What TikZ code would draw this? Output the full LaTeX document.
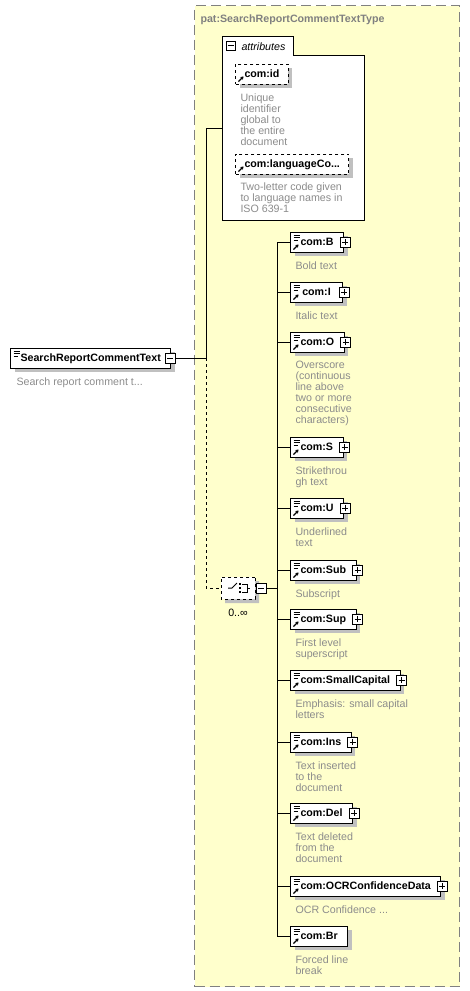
\documentclass[tikz,border=0pt]{standalone}
\usepackage{fontspec}
\setmainfont{Liberation Sans}
\usetikzlibrary{shadows,shapes.misc,arrows.meta,positioning}

\definecolor{typefill}{RGB}{255,255,204}
\definecolor{typeline}{RGB}{128,128,128}
\definecolor{desctext}{RGB}{140,140,140}
\definecolor{shadowgray}{RGB}{192,192,192}

\newcommand\diagfont{\fontsize{10.67}{11}\selectfont}
\newcommand\iconlines{\draw[solid,line width=0.8pt] ([shift={(3,-3)}]path picture bounding box.north west) -- ++(6,0) ++(-6,-2.5) -- ++(6,0) ++(-6,-2.5) -- ++(4,0);}
\newcommand\iconref{\draw[solid,line width=1.2pt,-{Stealth[length=3pt,width=4pt]}] ([shift={(3,2.5)}]path picture bounding box.south west) -- ++(5,5);}

\tikzset{
  box shadow/.style={drop shadow={shadow xshift=4pt,shadow yshift=-4pt,fill=shadowgray,opacity=1}},
  elem/.style={draw,fill=white,font=\diagfont\bfseries,minimum width=52pt,minimum height=20pt,
    inner xsep=10pt,inner ysep=0pt,text height=8pt,text depth=2pt,box shadow,path picture={\iconlines\iconref}},
  topelem/.style={elem,path picture={\iconlines}},
  attr/.style={elem,dashed,inner xsep=9pt,path picture={\iconref}},
  expander/.style={draw,solid,fill=white,minimum size=10pt,inner sep=0pt},
  plusbox/.style={expander,path picture={\draw ([xshift=-3pt]path picture bounding box.center) -- ([xshift=3pt]path picture bounding box.center)
    ([yshift=-3pt]path picture bounding box.center) -- ([yshift=3pt]path picture bounding box.center);}},
  minusbox/.style={expander,path picture={\draw ([xshift=-3pt]path picture bounding box.center) -- ([xshift=3pt]path picture bounding box.center);}},
  desc/.style={anchor=north west,inner sep=0pt,align=left,text=desctext},
  typebox/.style={draw=typeline,fill=typefill,dash pattern=on 10pt off 5pt},
  choice/.style={draw,dashed,fill=white,chamfered rectangle,chamfered rectangle xsep=6pt,chamfered rectangle ysep=6pt,
    minimum width=34pt,minimum height=22pt,inner sep=0pt,box shadow}
}

\begin{document}
\begin{tikzpicture}[x=1pt,y=1pt,line width=1pt,font=\diagfont]
  \useasboundingbox (0,0) rectangle (469,-991);
  \node[typebox,minimum width=265pt,minimum height=981pt,anchor=north west] (patType) at (194,-5) {};
  \node[anchor=base west,inner sep=0pt,text=typeline,font=\diagfont\bfseries] (patTitle) at (200,-22) {pat:SearchReportCommentTextType};

  % attributes
  \node[minimum width=141pt,minimum height=183pt,inner sep=0pt,anchor=north west] (attrs) at (222,-36) {};
  \draw[fill=white] (attrs.south west) -- (attrs.north west) -| ++(71,-19) -| (attrs.south east) -- cycle;
  \node[minusbox,minimum size=9pt] (attrsMinus) at (230.5,-45.5) {};
  \node[anchor=base west,inner sep=0pt,font=\diagfont\itshape] (attrsLabel) at (241,-50.5) {attributes};
  \node[attr,anchor=west] (aId) at (235,-74) {com:id};
  \node[desc] at ([shift={(5,-8.3)}]aId.south west) {Unique\\identifier\\global to\\the entire\\document};
  \node[attr,anchor=west] (aLang) at (235,-164) {com:languageCo...};
  \node[desc] at ([shift={(5,-7.3)}]aLang.south west) {Two-letter code given\\to language names in\\ISO 639-1};

  % element
  \node[topelem,anchor=west] (searchElem) at (10,-358) {SearchReportCommentText};
  \node[minusbox] (searchMinus) at ([xshift=-1pt]searchElem.east) {};
  \node[desc] at ([shift={(6,-8.3)}]searchElem.south west) {Search report comment t...};

  % choice
  \node[choice] (choiceGrp) at (238,-588) {};
  \draw ([xshift=-10pt]choiceGrp.center) -- ++(4,0) -- ++(5,5);
  \foreach \d in {-4,0,4} \fill ([shift={(0.5,\d-0.8)}]choiceGrp.center) rectangle ++(2,1.6);
  \draw ([shift={(4,4)}]choiceGrp.center) -| ([shift={(9,-4)}]choiceGrp.center) -- ++(-5,0)
    ([xshift=9pt]choiceGrp.center) -- ++(3,0);
  \node[minusbox,anchor=west] (choiceMinus) at (choiceGrp.east) {};
  \node[anchor=base,inner sep=0pt] (choiceCard) at (238,-616) {0..∞};

  % children
  \node[elem,anchor=west] (eB) at (290,-242) {com:B};
  \node[plusbox] (eBPlus) at ([xshift=1pt]eB.east) {};
  \node[desc] at ([shift={(5,-8.3)}]eB.south west) {Bold text};
  \node[elem,anchor=west] (eI) at (290,-292) {com:I};
  \node[plusbox] (eIPlus) at ([xshift=1pt]eI.east) {};
  \node[desc] at ([shift={(5,-8.3)}]eI.south west) {Italic text};
  \node[elem,anchor=west] (eO) at (290,-342) {com:O};
  \node[plusbox] (eOPlus) at ([xshift=1pt]eO.east) {};
  \node[desc] at ([shift={(5,-8.3)}]eO.south west) {Overscore\\(continuous\\line above\\two or more\\consecutive\\characters)};
  \node[elem,anchor=west] (eS) at (290,-447) {com:S};
  \node[plusbox] (eSPlus) at ([xshift=1pt]eS.east) {};
  \node[desc] at ([shift={(5,-8.3)}]eS.south west) {Strikethrou\\gh text};
  \node[elem,anchor=west] (eU) at (290,-508) {com:U};
  \node[plusbox] (eUPlus) at ([xshift=1pt]eU.east) {};
  \node[desc] at ([shift={(5,-8.3)}]eU.south west) {Underlined\\text};
  \node[elem,anchor=west] (eSub) at (290,-570) {com:Sub};
  \node[plusbox] (eSubPlus) at ([xshift=1pt]eSub.east) {};
  \node[desc] at ([shift={(5,-8.3)}]eSub.south west) {Subscript};
  \node[elem,anchor=west] (eSup) at (290,-619) {com:Sup};
  \node[plusbox] (eSupPlus) at ([xshift=1pt]eSup.east) {};
  \node[desc] at ([shift={(5,-8.3)}]eSup.south west) {First level\\superscript};
  \node[elem,anchor=west] (eSmall) at (290,-680) {com:SmallCapital};
  \node[plusbox] (eSmallPlus) at ([xshift=1pt]eSmall.east) {};
  \node[desc] at ([shift={(5,-8.3)}]eSmall.south west) {Emphasis: small capital\\letters};
  \node[elem,anchor=west] (eIns) at (290,-742) {com:Ins};
  \node[plusbox] (eInsPlus) at ([xshift=1pt]eIns.east) {};
  \node[desc] at ([shift={(5,-8.3)}]eIns.south west) {Text inserted\\to the\\document};
  \node[elem,anchor=west] (eDel) at (290,-813) {com:Del};
  \node[plusbox] (eDelPlus) at ([xshift=1pt]eDel.east) {};
  \node[desc] at ([shift={(5,-8.3)}]eDel.south west) {Text deleted\\from the\\document};
  \node[elem,anchor=west] (eOCR) at (290,-886) {com:OCRConfidenceData};
  \node[plusbox] (eOCRPlus) at ([xshift=1pt]eOCR.east) {};
  \node[desc] at ([shift={(5,-8.3)}]eOCR.south west) {OCR Confidence ...};
  \node[elem,anchor=west] (eBr) at (290,-936) {com:Br};
  \node[desc] at ([shift={(5,-8.3)}]eBr.south west) {Forced line\\break};

  % connectors
  \coordinate (seqJoin) at (206,-358);
  \coordinate (bus) at ([xshift=-13pt]eB.west);
  \draw (searchMinus.east) -- (seqJoin) |- (attrs.west);
  \draw[dashed] (seqJoin) |- (choiceGrp.west);
  \draw (choiceMinus.east) -- (choiceMinus.east -| bus);
  \draw (bus) |- (eBr.west);
  \foreach \n in {eB,eI,eO,eS,eU,eSub,eSup,eSmall,eIns,eDel,eOCR}
    \draw (\n.west) -- (\n.west -| bus);
\end{tikzpicture}
\end{document}
